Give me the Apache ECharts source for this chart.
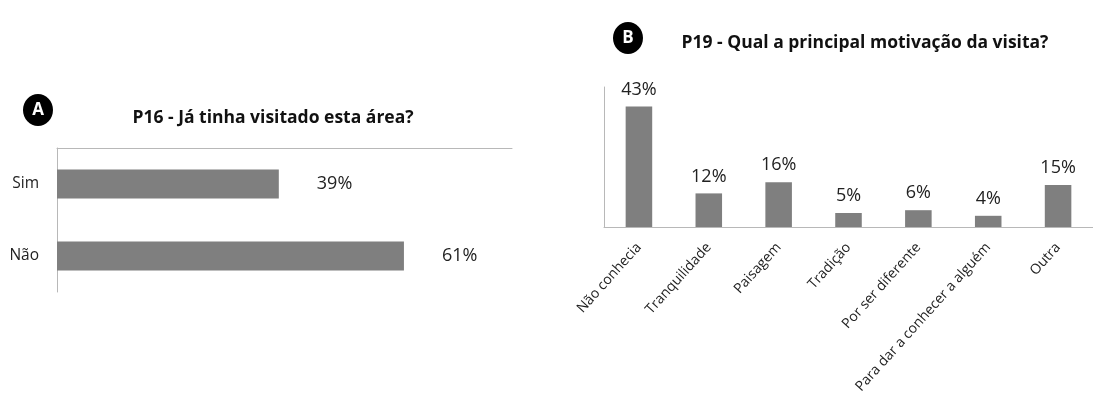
<!DOCTYPE html>
<html>
<head>
<meta charset="utf-8">
<title>P16 / P19</title>
<script src="https://cdn.jsdelivr.net/npm/echarts@6/dist/echarts.min.js"></script>
<style>
  html, body { margin: 0; padding: 0; background: #fff; }
  #chart { width: 1093px; height: 414px; }
</style>
</head>
<body>
<div id="chart"></div>
<script>
// dados do gráfico A (P16)
const visitCategories = ['Sim', 'Não'];
const visitValues = [39, 61];
// dados do gráfico B (P19)
const motiveCategories = ['Não conhecia', 'Tranquilidade', 'Paisagem', 'Tradição', 'Por ser diferente', 'Para dar a conhecer a alguém', 'Outra'];
const motiveValues = [43, 12, 16, 5, 6, 4, 15];

const FONT = 'Open Sans';
const BAR = '#7f7f7f';
const AXIS = '#b8b8b8';

const chart = echarts.init(document.getElementById('chart'));

// círculo preto com a letra do painel
const badge = (x, y, letter) => ({
  type: 'group',
  x: x, y: y,
  children: [
    { type: 'ellipse', shape: { cx: 0, cy: 0, rx: 15, ry: 16 }, style: { fill: '#000' } },
    { type: 'text', style: { x: 0, y: 0, text: letter, fill: '#fff', font: 'bold 17px "Open Sans"', align: 'center', verticalAlign: 'middle' } }
  ]
});

const option = {
  animation: false,
  textStyle: { fontFamily: FONT },
  title: [
    { text: 'P16 - Já tinha visitado esta área?', left: 268, top: 104, textAlign: 'center',
      textStyle: { fontFamily: FONT, fontWeight: 'bold', fontSize: 17.5, color: '#111' } },
    { text: 'P19 - Qual a principal motivação da visita?', left: 860, top: 29, textAlign: 'center',
      textStyle: { fontFamily: FONT, fontWeight: 'bold', fontSize: 17.5, color: '#111' } }
  ],
  graphic: [badge(38, 110, 'A'), badge(628, 38, 'B')],
  grid: [
    { left: 57, top: 148, width: 455, height: 144 },
    { left: 604, top: 87, width: 496, height: 140 }
  ],
  xAxis: [
    { gridIndex: 0, type: 'value', position: 'top', min: 0, max: 80,
      axisLine: { show: true, lineStyle: { color: AXIS } },
      axisTick: { show: false }, axisLabel: { show: false }, splitLine: { show: false } },
    { gridIndex: 1, type: 'category', data: motiveCategories,
      axisLine: { lineStyle: { color: AXIS } }, axisTick: { show: false },
      axisLabel: { rotate: 48, margin: 18, fontSize: 14, color: '#222', interval: 0 } }
  ],
  yAxis: [
    { gridIndex: 0, type: 'category', data: visitCategories, inverse: true,
      axisLine: { lineStyle: { color: AXIS } }, axisTick: { show: false },
      axisLabel: { margin: 18, fontSize: 15.5, color: '#222' } },
    { gridIndex: 1, type: 'value', min: 0, max: 50,
      axisLine: { show: true, lineStyle: { color: AXIS } },
      axisTick: { show: false }, axisLabel: { show: false }, splitLine: { show: false } }
  ],
  series: [
    { type: 'bar', xAxisIndex: 0, yAxisIndex: 0, data: visitValues, barWidth: '40%',
      itemStyle: { color: BAR },
      label: { show: true, position: 'right', distance: 38, formatter: '{c}%', fontSize: 18, color: '#222' } },
    { type: 'bar', xAxisIndex: 1, yAxisIndex: 1, data: motiveValues, barWidth: '38%',
      itemStyle: { color: BAR },
      label: { show: true, position: 'top', distance: 8, formatter: '{c}%', fontSize: 18, color: '#222' } }
  ]
};

chart.setOption(option);
</script>
</body>
</html>
